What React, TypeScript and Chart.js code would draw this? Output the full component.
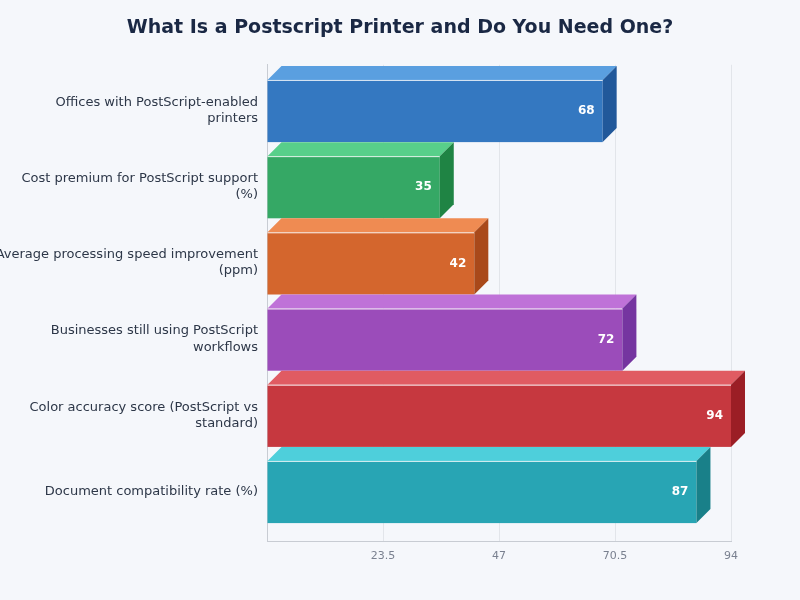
import React, { useEffect, useRef } from "react";
import { Chart, registerables } from "chart.js";

Chart.register(...registerables);

const categories: (string | string[])[] = [
  ["Offices with PostScript-enabled", "printers"],
  ["Cost premium for PostScript support", "(%)"],
  ["Average processing speed improvement", "(ppm)"],
  ["Businesses still using PostScript", "workflows"],
  ["Color accuracy score (PostScript vs", "standard)"],
  "Document compatibility rate (%)",
];
const values = [68, 35, 42, 72, 94, 87];
const xTicks = [23.5, 47, 70.5, 94];

const frontColors = ["#3478c1", "#35a865", "#d4662d", "#9b4cba", "#c6383f", "#28a5b4"];
const topColors = ["#5a9fe0", "#58cf8a", "#ef8b52", "#bf72d8", "#e05b62", "#4ecfdb"];
const sideColors = ["#21589a", "#1f8444", "#a9491a", "#7535a0", "#9b1e25", "#198089"];

const DEPTH = 14;

const bar3d = {
  id: "bar3d",
  afterDatasetsDraw(chart: any) {
    const ctx = chart.ctx;
    const meta = chart.getDatasetMeta(0);
    meta.data.forEach((el: any, i: number) => {
      const { x, y, base, height } = el.getProps(["x", "y", "base", "height"], true);
      const h = height;
      const fTop = y - h / 2 + 0.5;
      const fBot = y + h / 2 + 0.5;
      ctx.save();
      ctx.fillStyle = frontColors[i];
      ctx.fillRect(base, fTop, x - base, fBot - fTop);
      ctx.beginPath();
      ctx.moveTo(base, fTop);
      ctx.lineTo(base + DEPTH, fTop - DEPTH);
      ctx.lineTo(x + DEPTH, fTop - DEPTH);
      ctx.lineTo(x, fTop);
      ctx.closePath();
      ctx.fillStyle = topColors[i];
      ctx.fill();
      ctx.beginPath();
      ctx.moveTo(x, fTop);
      ctx.lineTo(x + DEPTH, fTop - DEPTH);
      ctx.lineTo(x + DEPTH, fBot - DEPTH);
      ctx.lineTo(x, fBot);
      ctx.closePath();
      ctx.fillStyle = sideColors[i];
      ctx.fill();
      ctx.strokeStyle = "rgba(255,255,255,0.85)";
      ctx.lineWidth = 1;
      ctx.beginPath();
      ctx.moveTo(base, fTop + 0.5);
      ctx.lineTo(x, fTop + 0.5);
      ctx.stroke();
      ctx.fillStyle = "#ffffff";
      ctx.font = "bold 12px 'DejaVu Sans', sans-serif";
      ctx.textAlign = "right";
      ctx.textBaseline = "middle";
      ctx.fillText(String(values[i]), x - 8, (fTop + fBot) / 2);
      ctx.restore();
    });
  },
};

export default function App() {
  const ref = useRef<HTMLCanvasElement | null>(null);

  useEffect(() => {
    document.body.style.margin = "0";
    document.body.style.background = "#f5f7fb";
    Chart.defaults.font.family = "'DejaVu Sans', sans-serif";
    const chart = new Chart(ref.current as HTMLCanvasElement, {
      type: "bar",
      data: {
        datasets: [
          {
            data: values.map((v, i) => ({ x: v, y: i })),
            backgroundColor: "rgba(0,0,0,0)",
            borderWidth: 0,
            barPercentage: 0.816,
            categoryPercentage: 1,
          },
        ],
      },
      options: {
        indexAxis: "y",
        animation: false,
        responsive: false,
        devicePixelRatio: 1,
        layout: { padding: { left: 0, right: 0, top: 0, bottom: 29 } },
        plugins: {
          legend: { display: false },
          tooltip: { enabled: false },
          title: {
            display: true,
            text: "What Is a Postscript Printer and Do You Need One?",
            color: "#1a2844",
            font: { size: 19, weight: "bold" },
            padding: { top: 17, bottom: 25 },
          },
        },
        scales: {
          x: {
            type: "linear",
            min: 0,
            max: 94,
            afterBuildTicks: (scale: any) => {
              scale.ticks = [{ value: 0 }, ...xTicks.map((v) => ({ value: v }))];
            },
            ticks: {
              color: "#7a8190",
              font: { size: 11 },
              padding: 8,
              callback: (v: any) => (v === 0 ? "" : String(v)),
            },
            grid: { color: "#e2e5ea", drawTicks: false },
            border: { color: "#c8ccd3" },
          },
          y: {
            type: "linear",
            reverse: true,
            offset: false,
            min: -0.6,
            max: 5.66,
            afterBuildTicks: (scale: any) => {
              scale.ticks = categories.map((_, i) => ({ value: i }));
            },
            afterFit: (scale: any) => {
              scale.width = 267;
            },
            ticks: {
              color: "#2d3748",
              font: { size: 13, lineHeight: 1.25 },
              padding: 9,
              autoSkip: false,
              callback: (v: any) => categories[v as number] ?? "",
            },
            grid: { display: false, drawTicks: false },
            border: { display: true, color: "#c8ccd3" },
          },
          yRight: {
            type: "linear",
            position: "right",
            display: true,
            grid: { display: false, drawTicks: false },
            border: { display: false },
            ticks: { display: false },
            afterFit: (scale: any) => {
              scale.width = 69;
            },
          },
        },
      },
      plugins: [bar3d],
    } as any);
    return () => chart.destroy();
  }, []);

  return (
    <div style={{ width: 800, height: 600, background: "#f5f7fb" }}>
      <canvas ref={ref} width={800} height={600} />
    </div>
  );
}
